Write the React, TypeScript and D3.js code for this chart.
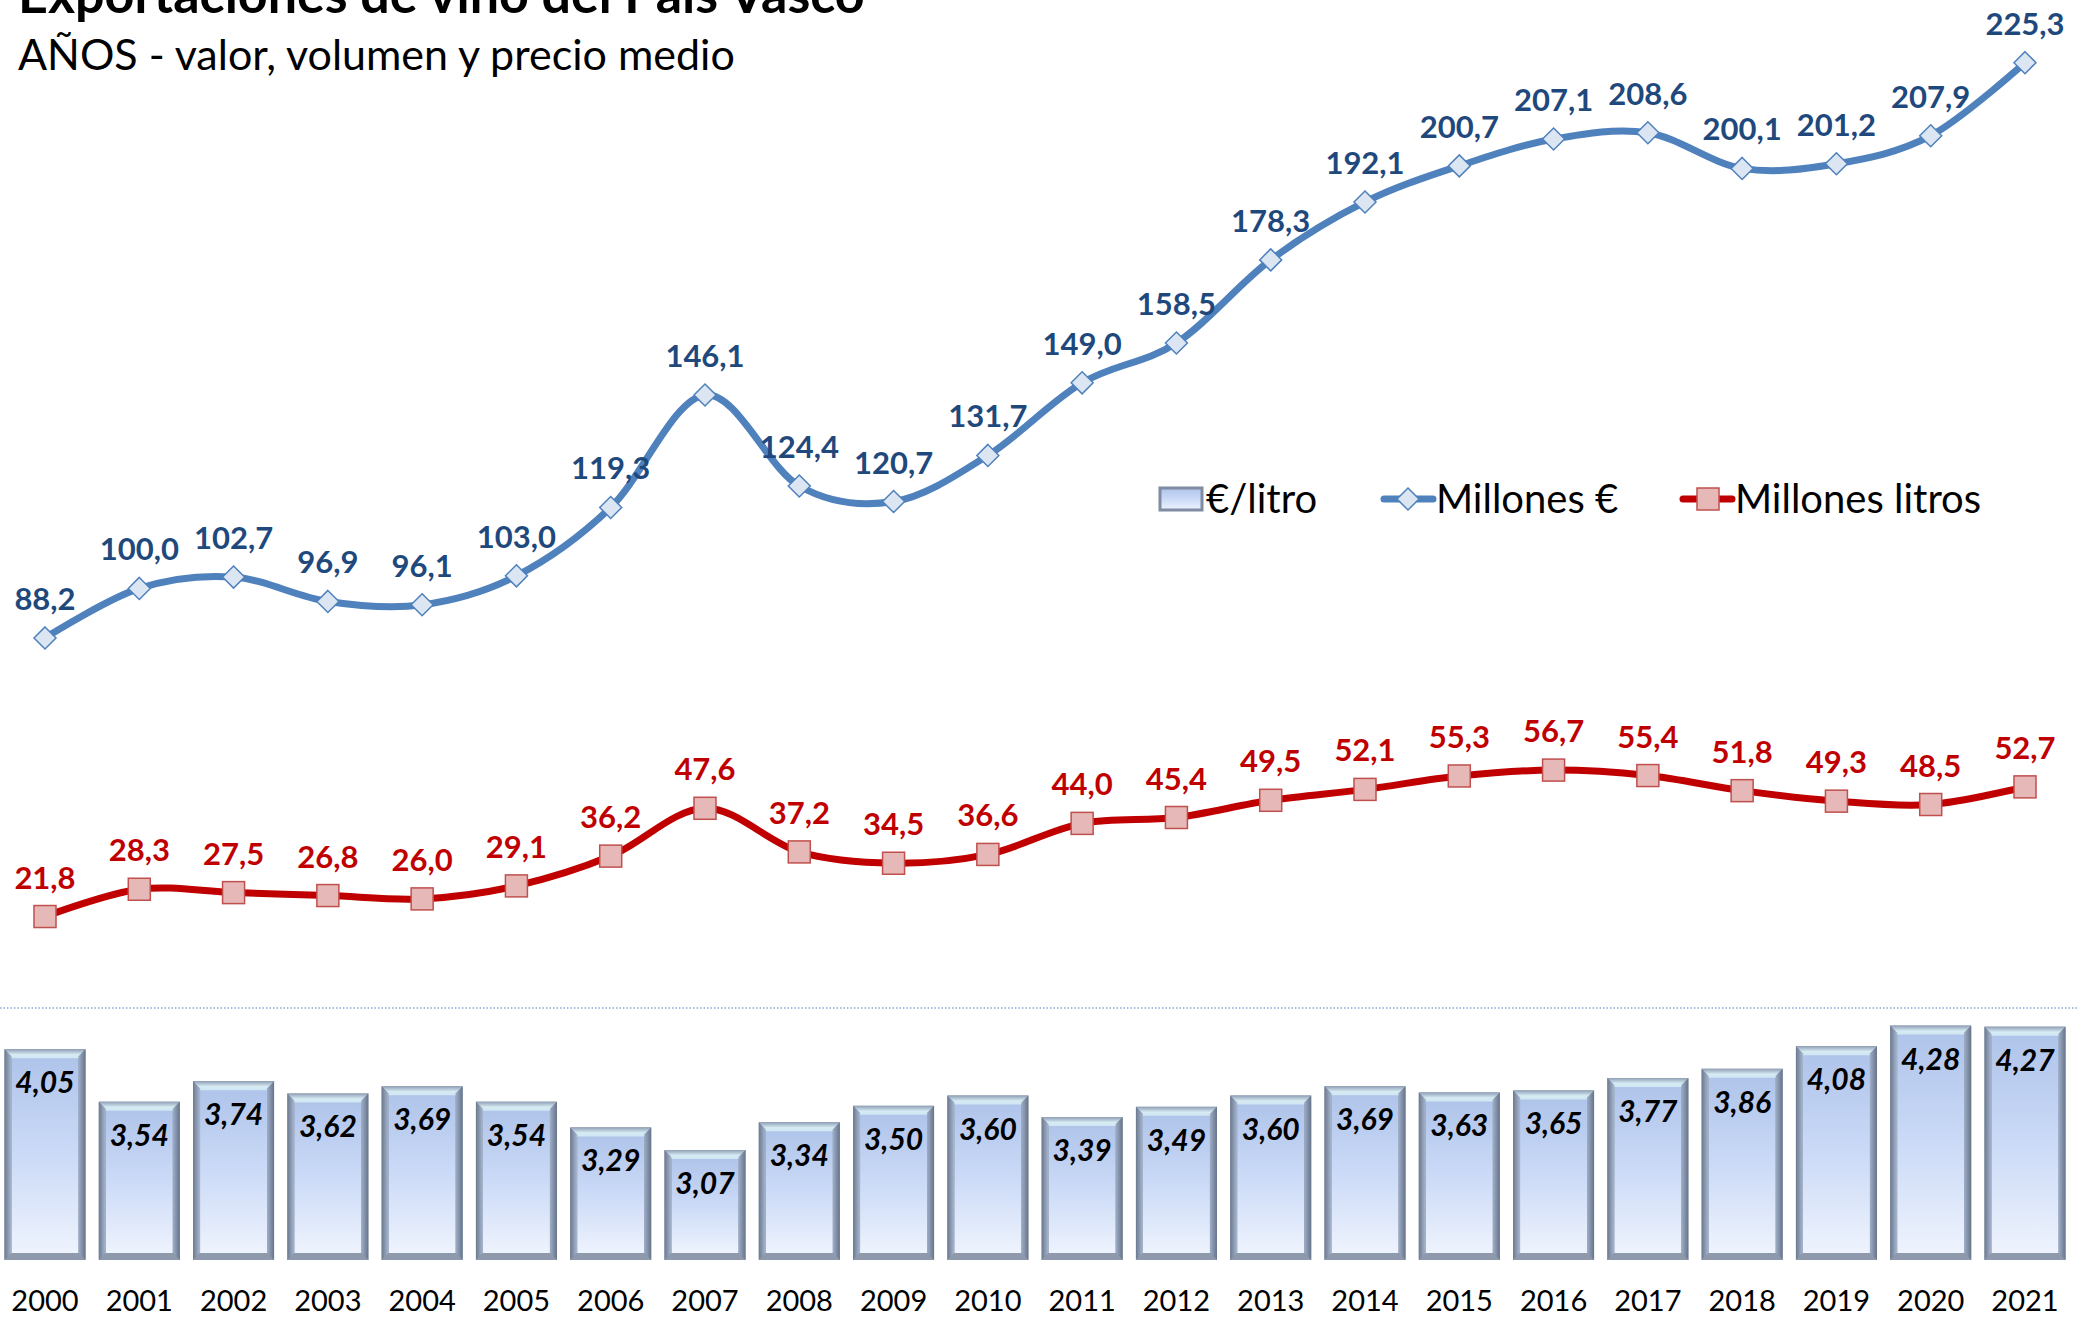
import React from "react";
import * as d3 from "d3";

// Exportaciones de vino del País Vasco, 2000-2021
const years = [
  "2000", "2001", "2002", "2003", "2004", "2005", "2006", "2007", "2008", "2009", "2010",
  "2011", "2012", "2013", "2014", "2015", "2016", "2017", "2018", "2019", "2020", "2021",
];
const millonesEuro = [
  88.2, 100.0, 102.7, 96.9, 96.1, 103.0, 119.3, 146.1, 124.4, 120.7, 131.7,
  149.0, 158.5, 178.3, 192.1, 200.7, 207.1, 208.6, 200.1, 201.2, 207.9, 225.3,
];
const millonesLitros = [
  21.8, 28.3, 27.5, 26.8, 26.0, 29.1, 36.2, 47.6, 37.2, 34.5, 36.6,
  44.0, 45.4, 49.5, 52.1, 55.3, 56.7, 55.4, 51.8, 49.3, 48.5, 52.7,
];
const euroLitro = [
  4.05, 3.54, 3.74, 3.62, 3.69, 3.54, 3.29, 3.07, 3.34, 3.5, 3.6,
  3.39, 3.49, 3.6, 3.69, 3.63, 3.65, 3.77, 3.86, 4.08, 4.28, 4.27,
];

const W = 2085;
const H = 1318;
const FONT = "Lato, 'Open Sans', sans-serif";

const BLUE = "#4F81BD";
const BLUE_DARK = "#1F497D";
const RED = "#C00000";

const fmt1 = (v: number) => d3.format(".1f")(v).replace(".", ",");
const fmt2 = (v: number) => d3.format(".2f")(v).replace(".", ",");

const x = d3.scalePoint<string>().domain(years).range([45, 2025]);
const yLine = d3.scaleLinear().domain([0, 240]).range([1008, 1]);
const yBar = d3.scaleLinear().domain([2, 4.5]).range([1260, 1003]);
const BAR_W = 81;

const line = d3
  .line<number>()
  .x((_, i) => x(years[i]) as number)
  .y((d) => yLine(d))
  .curve(d3.curveCardinal.tension(0));

function Bar({ cx, value }: { cx: number; value: number }) {
  const x0 = cx - BAR_W / 2;
  const top = yBar(value);
  const bottom = yBar(2);
  const h = bottom - top;
  const b = 7;
  const x1 = x0 + BAR_W;
  return (
    <g>
      <rect x={x0} y={top} width={BAR_W} height={h} fill="#7F8CA1" />
      <rect x={x0 + b} y={top + b} width={BAR_W - 2 * b} height={h - 2 * b} fill="url(#barFill)" />
      <polygon
        points={`${x0},${top} ${x1},${top} ${x1 - b},${top + b + 2} ${x0 + b},${top + b + 2}`}
        fill="url(#barTop)"
      />
      <polygon
        points={`${x0},${top} ${x0 + b},${top + b} ${x0 + b},${bottom - b} ${x0},${bottom}`}
        fill="url(#barLeft)"
      />
      <polygon
        points={`${x1},${top} ${x1 - b},${top + b} ${x1 - b},${bottom - b} ${x1},${bottom}`}
        fill="url(#barRight)"
      />
      <polygon
        points={`${x0},${bottom} ${x1},${bottom} ${x1 - b},${bottom - b} ${x0 + b},${bottom - b}`}
        fill="#8E9AAC"
      />
    </g>
  );
}

export default function App() {
  return (
    <svg
      width={W}
      height={H}
      style={{ position: "absolute", left: 0, top: 0, background: "#fff" }}
      fontFamily={FONT}
    >
      <defs>
        <linearGradient id="barFill" x1="0" y1="0" x2="0" y2="1">
          <stop offset="0" stopColor="#AFC4EA" />
          <stop offset="0.5" stopColor="#CBDAF7" />
          <stop offset="1" stopColor="#EEF3FD" />
        </linearGradient>
        <linearGradient id="barTop" x1="0" y1="0" x2="0" y2="1">
          <stop offset="0" stopColor="#8F9FB6" />
          <stop offset="0.6" stopColor="#D6EBF3" />
          <stop offset="1" stopColor="#CFE6F2" />
        </linearGradient>
        <linearGradient id="barLeft" x1="0" y1="0" x2="1" y2="0">
          <stop offset="0" stopColor="#6C7A90" />
          <stop offset="1" stopColor="#A8B8D0" />
        </linearGradient>
        <linearGradient id="barRight" x1="1" y1="0" x2="0" y2="0">
          <stop offset="0" stopColor="#66748A" />
          <stop offset="1" stopColor="#9FAFC8" />
        </linearGradient>
      </defs>

      {/* title */}
      <text x={18} y={13} fontSize={52} fontWeight="bold" fill="#000">
        Exportaciones de vino del País Vasco
      </text>
      <text x={18} y={70} fontSize={43} fill="#000">
        AÑOS - valor, volumen y precio medio
      </text>

      {/* bars: €/litro */}
      {euroLitro.map((v, i) => (
        <Bar key={years[i]} cx={x(years[i]) as number} value={v} />
      ))}
      {euroLitro.map((v, i) => (
        <text
          key={"bl" + i}
          x={x(years[i]) as number}
          y={yBar(v) + 44}
          textAnchor="middle"
          fontSize={30}
          fontWeight="bold"
          fontStyle="italic"
          fill="#000"
        >
          {fmt2(v)}
        </text>
      ))}

      {/* separator */}
      <line x1={0} x2={2078} y1={1008} y2={1008} stroke={BLUE} strokeWidth={1.2} strokeDasharray="1.5 2" />

      {/* year labels */}
      {years.map((yr) => (
        <text key={yr} x={x(yr) as number} y={1311} textAnchor="middle" fontSize={29} fill="#000">
          {yr}
        </text>
      ))}

      {/* Millones € */}
      <path d={line(millonesEuro) || ""} fill="none" stroke={BLUE} strokeWidth={7} />
      {millonesEuro.map((v, i) => {
        const cx = x(years[i]) as number;
        const cy = yLine(v);
        return (
          <polygon
            key={"d" + i}
            points={`${cx},${cy - 11} ${cx + 11},${cy} ${cx},${cy + 11} ${cx - 11},${cy}`}
            fill="#DCE6F2"
            stroke={BLUE}
            strokeWidth={1.5}
          />
        );
      })}
      {millonesEuro.map((v, i) => (
        <text
          key={"ve" + i}
          x={x(years[i]) as number}
          y={yLine(v) - 28}
          textAnchor="middle"
          fontSize={31}
          fontWeight="bold"
          fill={BLUE_DARK}
        >
          {fmt1(v)}
        </text>
      ))}

      {/* Millones litros */}
      <path d={line(millonesLitros) || ""} fill="none" stroke={RED} strokeWidth={7} />
      {millonesLitros.map((v, i) => {
        const cx = x(years[i]) as number;
        const cy = yLine(v);
        return (
          <rect
            key={"s" + i}
            x={cx - 11}
            y={cy - 11}
            width={22}
            height={22}
            fill="#E6B9B8"
            stroke="#C0504D"
            strokeWidth={1.5}
          />
        );
      })}
      {millonesLitros.map((v, i) => (
        <text
          key={"vl" + i}
          x={x(years[i]) as number}
          y={yLine(v) - 28}
          textAnchor="middle"
          fontSize={31}
          fontWeight="bold"
          fill={RED}
        >
          {fmt1(v)}
        </text>
      ))}

      {/* legend */}
      <g fontSize={40} fill="#000">
        <rect x={1160} y={488} width={42} height={22} fill="url(#barFill)" stroke="#7F8CA1" strokeWidth={3} />
        <text x={1206} y={513}>€/litro</text>
        <line x1={1384} x2={1433} y1={499} y2={499} stroke={BLUE} strokeWidth={7} strokeLinecap="round" />
        <polygon points="1408,488 1419,499 1408,510 1397,499" fill="#DCE6F2" stroke={BLUE} strokeWidth={1.5} />
        <text x={1436} y={513}>Millones €</text>
        <line x1={1683} x2={1732} y1={499} y2={499} stroke={RED} strokeWidth={7} strokeLinecap="round" />
        <rect x={1697} y={488} width={22} height={22} fill="#E6B9B8" stroke="#C0504D" strokeWidth={1.5} />
        <text x={1735} y={513}>Millones litros</text>
      </g>
    </svg>
  );
}
